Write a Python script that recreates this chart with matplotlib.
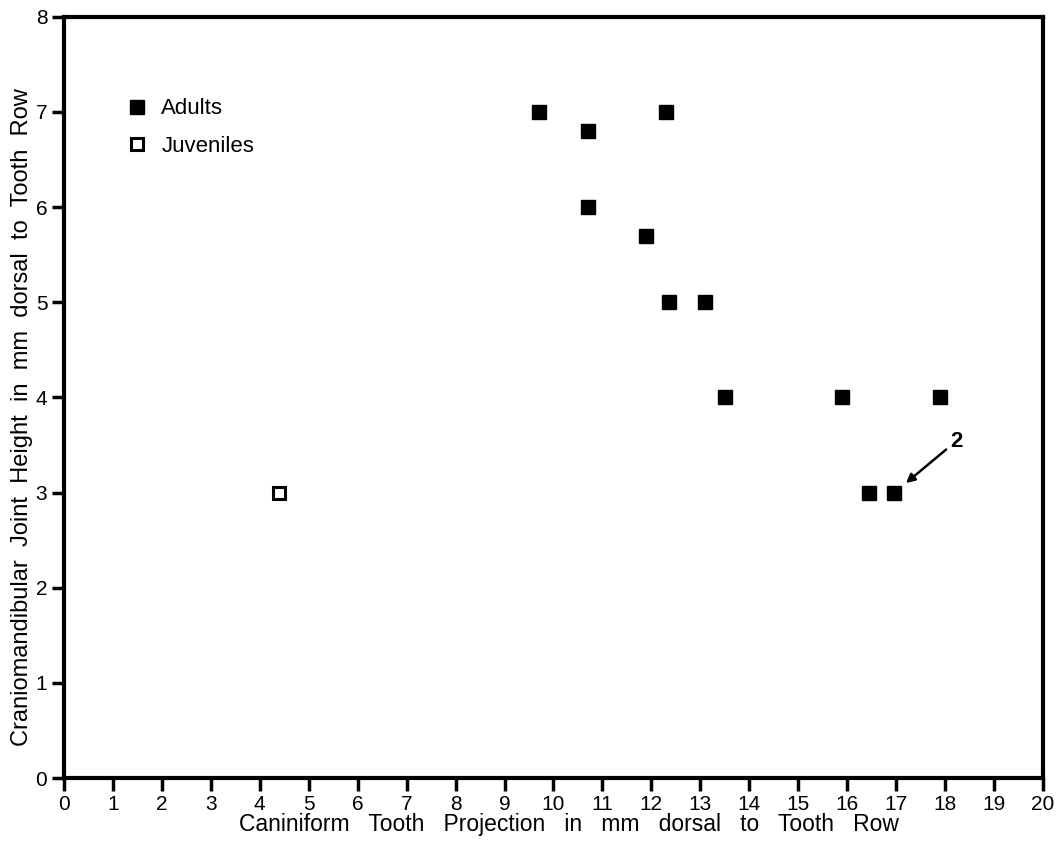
import matplotlib
matplotlib.use('Agg')
import matplotlib.pyplot as plt

plt.rcParams['font.family'] = ['Liberation Sans', 'DejaVu Sans']

# Adults: caniniform projection (mm) vs craniomandibular joint height (mm)
adult_x = [9.7, 10.7, 12.3, 10.7, 11.9, 12.35, 13.1, 13.5, 15.9, 17.9, 16.45, 16.95]
adult_y = [7.0, 6.8, 7.0, 6.0, 5.7, 5.0, 5.0, 4.0, 4.0, 4.0, 3.0, 3.0]
juv_x = [4.4]
juv_y = [3.0]

x_ticks = list(range(0, 21))
y_ticks = list(range(0, 9))

fig = plt.figure(figsize=(10.61, 8.42), dpi=100)
ax = fig.add_axes([0.0603, 0.076, 0.9227, 0.904])

ax.plot(adult_x, adult_y, 's', color='black', markersize=9.5, label='Adults')
ax.plot(juv_x, juv_y, 's', markerfacecolor='white', markeredgecolor='black',
        markeredgewidth=2.2, markersize=8, label='Juveniles')

ax.annotate('2', xy=(17.2, 3.1), xytext=(18.1, 3.43), fontsize=16,
            fontweight='bold', ha='left', va='bottom',
            arrowprops=dict(arrowstyle='-|>', color='black', lw=1.8,
                            mutation_scale=13, shrinkA=1, shrinkB=0))

ax.set_xlim(0, 20)
ax.set_ylim(0, 8)
ax.set_xticks(x_ticks)
ax.set_yticks(y_ticks)
ax.tick_params(direction='out', length=9, width=2.5, labelsize=15, pad=3)
for s in ax.spines.values():
    s.set_linewidth(3)

ax.set_xlabel('   '.join(['Caniniform', 'Tooth', 'Projection', 'in', 'mm',
                          'dorsal', 'to', 'Tooth', 'Row']), fontsize=16.5)
ax.xaxis.set_label_coords(0.516, -0.046)
ax.set_ylabel('  '.join(['Craniomandibular', 'Joint', 'Height', 'in', 'mm',
                         'dorsal', 'to', 'Tooth', 'Row']), fontsize=17,
              va='center')
ax.yaxis.set_label_coords(-0.043, 0.474)

ax.legend(loc='upper left', bbox_to_anchor=(0.063, 0.893), frameon=False,
          fontsize=16, handlelength=1.0, handletextpad=0.6, labelspacing=0.75,
          borderaxespad=0, borderpad=0)

fig.savefig('out.png', dpi=100)
